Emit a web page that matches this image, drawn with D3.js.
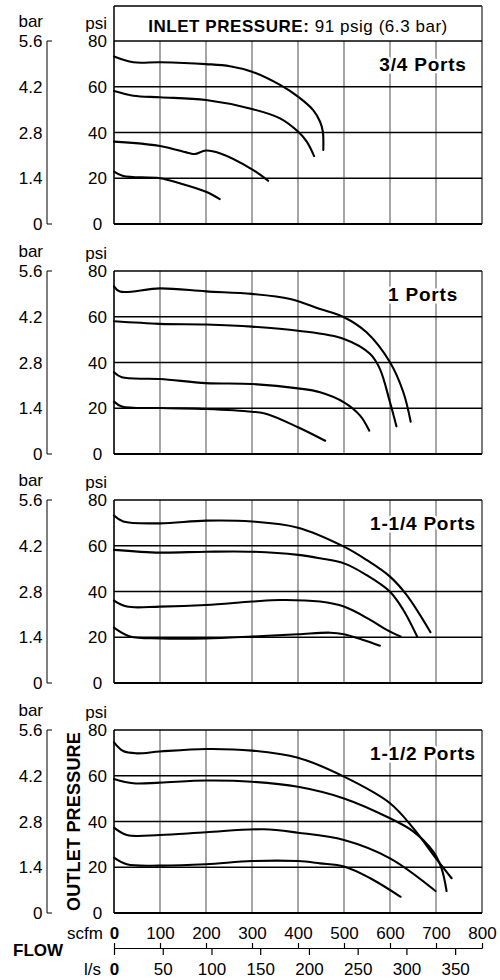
<!DOCTYPE html>
<html><head><meta charset="utf-8">
<script src="https://cdn.jsdelivr.net/npm/d3@7"></script>
<style>
html,body{margin:0;padding:0;background:#fff;}
svg text{font-family:"Liberation Sans",Arial,Helvetica,sans-serif;fill:#000;}
</style></head>
<body><svg id="chart" width="500" height="980"></svg>
<script>
// ---------- data ----------
const panelNames = ["3/4 Ports", "1 Ports", "1-1/4 Ports", "1-1/2 Ports"];
const scfmTicks = [0, 100, 200, 300, 400, 500, 600, 700, 800];
const lsTicks = [0, 50, 100, 150, 200, 250, 300, 350];
const psiTicks = [0, 20, 40, 60, 80];
const barLabels = ["0", "1.4", "2.8", "4.2", "5.6"];
const headerBold = "INLET PRESSURE:";
const headerRest = " 91 psig (6.3 bar)";

// [scfm, psi]
const p34_a = [[0,73.2],[42,70.7],[100,70.7],[200,69.9],[252,69],[300,66.6],[361,60.8],[400,55.7],[433,49.8],[448,44.7],[454,40.4],[455,32.4]];
const p34_b = [[0,58.1],[42,56.1],[100,55.4],[200,54.2],[300,50.3],[361,46.2],[400,40.4],[419,36],[435,29.7]];
const p34_c = [[0,36],[100,34.1],[165,30.9],[176,30.6],[200,32.1],[230,30.9],[300,23.9],[335,18.9]];
const p34_d = [[0,22.9],[20,21],[100,20],[143,17.8],[200,14.1],[230,10.9]];

const p1_a = [[0,73.3],[13,71],[100,72.4],[200,71.1],[300,70],[383,67.8],[448,63.4],[500,59.8],[549,53.2],[600,40.1],[629,27],[645,14.1]];
const p1_b = [[0,58],[100,56.9],[200,56.6],[300,55.7],[400,53.9],[500,50.3],[557,43.7],[578,37.2],[600,22.6],[614,12.1]];
const p1_c = [[0,35.7],[17,33.5],[100,32.8],[200,31],[300,30.6],[400,28.7],[448,27],[500,22.6],[535,16.8],[555,10.2]];
const p1_d = [[0,22.9],[17,20.8],[100,20.1],[200,19.7],[300,18.5],[332,17.5],[400,11.7],[459,5.8]];

const p114_a = [[0,73.2],[20,70.6],[100,69.8],[200,71],[300,70.6],[400,67.9],[500,59.6],[549,53.8],[600,46.5],[636,38.5],[688,22.2]];
const p114_b = [[0,58.2],[100,57],[200,57.4],[300,57.4],[400,56],[448,54.5],[500,52.3],[549,47.2],[600,39.9],[629,31.9],[659,20.3]];
const p114_c = [[0,36],[28,33.4],[100,33.4],[200,34.1],[300,35.6],[361,36.3],[448,35.6],[500,33.4],[557,27.6],[593,23.2],[623,20.3]];
const p114_d = [[0,24.2],[35,20.3],[100,19.5],[200,19.5],[300,20.3],[400,21.3],[470,22],[500,21.3],[542,18.8],[578,16.3]];

const p112_a = [[0,74.6],[20,70.8],[49,69.8],[100,70.6],[200,71.7],[300,71],[400,67.9],[500,59.6],[600,48],[651,37],[700,23.9],[734,15.2]];
const p112_b = [[0,58.6],[42,56.7],[100,57],[200,57.9],[300,57.4],[400,55.2],[500,50.1],[600,41.4],[651,35.6],[694,26.8],[712,19.5],[723,9.6]];
const p112_c = [[0,37.3],[28,34.1],[100,34.1],[200,35.3],[325,36.6],[400,35.1],[500,31.9],[600,23.9],[699,9.6]];
const p112_d = [[0,24.2],[28,21.3],[100,20.7],[200,21.3],[300,22.7],[400,22.7],[448,21.7],[500,20.3],[557,15.2],[623,7.1]];

const panelSeries = [
  [p34_a, p34_b, p34_c, p34_d],
  [p1_a, p1_b, p1_c, p1_d],
  [p114_a, p114_b, p114_c, p114_d],
  [p112_a, p112_b, p112_c, p112_d]
];

// ---------- layout ----------
const svg = d3.select("#chart");
const X0 = 114, X1 = 482, PH = 183;
const panelTops = [41, 271, 500, 730];
const x = d3.scaleLinear().domain([0, 800]).range([X0, X1]);
const xl = d3.scaleLinear().domain([0, 800 / 2.11888]).range([X0, X1]);

// header box for first panel
svg.append("line").attr("x1", X0).attr("x2", X1).attr("y1", 6).attr("y2", 6).attr("stroke", "#000").attr("stroke-width", 1.3);
svg.append("line").attr("x1", X0).attr("x2", X0).attr("y1", 6).attr("y2", panelTops[0]).attr("stroke", "#000").attr("stroke-width", 1.5);
svg.append("line").attr("x1", X1).attr("x2", X1).attr("y1", 6).attr("y2", panelTops[0]).attr("stroke", "#333").attr("stroke-width", 1.3);
const ht = svg.append("text").attr("x", (X0 + X1) / 2).attr("y", 32).attr("text-anchor", "middle")
  .style("font-size", "17px").style("letter-spacing", "0.55px");
ht.append("tspan").style("font-weight", "bold").text(headerBold);
ht.append("tspan").text(headerRest);

const line = d3.line().x(d => x(d[0])).curve(d3.curveCatmullRom.alpha(0.5));

panelTops.forEach((top, i) => {
  const y = d3.scaleLinear().domain([0, 80]).range([top + PH, top]);
  const g = svg.append("g");

  // vertical grid
  g.selectAll(".vg").data(scfmTicks.slice(1, -1)).join("line")
    .attr("x1", d => x(d)).attr("x2", d => x(d)).attr("y1", y(80)).attr("y2", y(0))
    .attr("stroke", "#6a6a6a").attr("stroke-width", 1.2);
  // right border
  g.append("line").attr("x1", X1).attr("x2", X1).attr("y1", y(80)).attr("y2", y(0))
    .attr("stroke", "#333").attr("stroke-width", 1.3);
  // horizontal grid
  g.selectAll(".hg").data(psiTicks.slice(1)).join("line")
    .attr("x1", X0).attr("x2", X1).attr("y1", d => y(d)).attr("y2", d => y(d))
    .attr("stroke", "#000").attr("stroke-width", 1.6);
  // bottom + left
  g.append("line").attr("x1", X0).attr("x2", X1).attr("y1", y(0)).attr("y2", y(0))
    .attr("stroke", "#000").attr("stroke-width", 2);
  g.append("line").attr("x1", X0).attr("x2", X0).attr("y1", y(80)).attr("y2", y(0))
    .attr("stroke", "#000").attr("stroke-width", 1.6);

  // port label with white halo
  g.append("text").attr("x", 423).attr("y", top + 29.5).attr("text-anchor", "middle")
    .style("font-size", "19px").style("font-weight", "bold").style("letter-spacing", "0.8px")
    .attr("stroke", "#fff").attr("stroke-width", 5).attr("paint-order", "stroke")
    .text(panelNames[i]);

  // curves
  g.selectAll(".curve").data(panelSeries[i]).join("path")
    .attr("d", d => line.y(p => y(p[1]))(d))
    .attr("fill", "none").attr("stroke", "#000").attr("stroke-width", 2.1)
    .attr("stroke-linecap", "round").attr("stroke-linejoin", "round");

  // psi labels
  g.selectAll(".psi").data(psiTicks).join("text")
    .attr("x", 97.5).attr("y", d => y(d)).attr("dy", "0.36em").attr("text-anchor", "middle")
    .style("font-size", "17px").text(d => d);
  g.append("text").attr("x", 107).attr("y", top - 12).attr("text-anchor", "end")
    .style("font-size", "17px").text("psi");

  // bar axis
  g.append("line").attr("x1", 47).attr("x2", 47).attr("y1", y(80)).attr("y2", y(0))
    .attr("stroke", "#000").attr("stroke-width", 1);
  g.selectAll(".bt").data([0, 80]).join("line")
    .attr("x1", 47).attr("x2", 52).attr("y1", d => y(d)).attr("y2", d => y(d))
    .attr("stroke", "#000").attr("stroke-width", 1);
  g.selectAll(".bar").data(psiTicks).join("text")
    .attr("x", 42.5).attr("y", d => y(d)).attr("dy", "0.36em").attr("text-anchor", "end")
    .style("font-size", "17px").text((d, k) => barLabels[k]);
  g.append("text").attr("x", 43).attr("y", top - 14.5).attr("text-anchor", "end")
    .style("font-size", "17px").text("bar");

  if (i === 3) {
    g.append("text").attr("transform", `translate(80,${(y(80) + y(0)) / 2}) rotate(-90)`)
      .attr("text-anchor", "middle").style("font-size", "18px").style("font-weight", "bold")
      .style("letter-spacing", "0.2px").text("OUTLET PRESSURE");
  }
});

// ---------- flow axis ----------
const AY = 948;
const axT = svg.append("g").attr("transform", `translate(0,${AY})`)
  .call(d3.axisTop(x).tickValues(scfmTicks).tickSize(5).tickSizeOuter(0).tickPadding(4).tickFormat(d3.format("d")));
const axB = svg.append("g").attr("transform", `translate(0,${AY})`)
  .call(d3.axisBottom(xl).tickValues(lsTicks).tickSize(7).tickSizeOuter(0).tickPadding(11).tickFormat(d3.format("d")));
[axT, axB].forEach(a => {
  a.attr("font-family", null).attr("font-size", null);
  a.selectAll("text").style("font-size", "17px").attr("fill", "#000")
    .style("font-weight", d => d === 0 ? "bold" : "normal");
  a.selectAll("line").attr("stroke", "#000").attr("stroke-width", 1.2);
  a.select(".domain").attr("stroke", "#000").attr("stroke-width", 1.2);
});
axB.selectAll("text").attr("dy", null).attr("y", 27);
axT.selectAll("text").attr("y", -9);

svg.append("text").attr("x", 103).attr("y", AY - 9).attr("text-anchor", "end")
  .style("font-size", "17px").text("scfm");
svg.append("text").attr("x", 101).attr("y", AY + 27).attr("text-anchor", "end")
  .style("font-size", "17px").text("l/s");
svg.append("text").attr("x", 13).attr("y", 956).style("font-size", "17px").style("font-weight", "bold").text("FLOW");
</script></body></html>
